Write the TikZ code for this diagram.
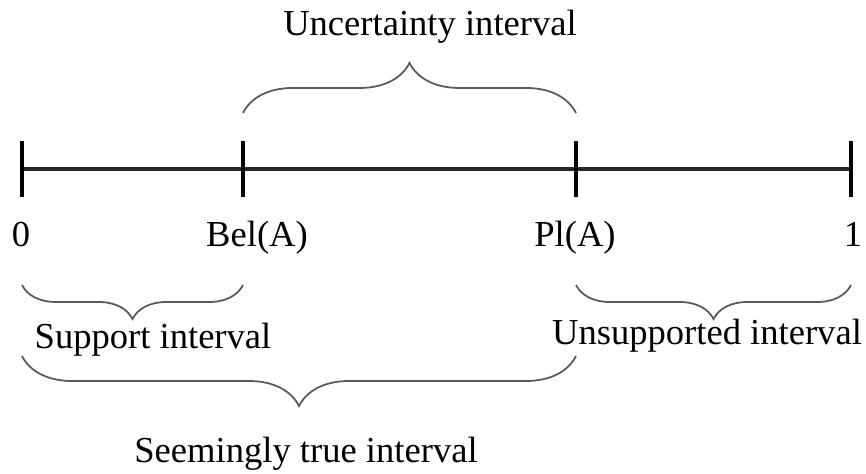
\documentclass[tikz,border=0pt]{standalone}
\usepackage{fontspec}
\setmainfont{Liberation Serif}
\usetikzlibrary{decorations.pathreplacing}

\tikzset{
  axisline/.style={line width=1.1pt,black!85},
  tickmark/.style={line width=0.9pt,black},
  brc/.style={decorate,decoration={brace,amplitude=#1},gray!70!black,line width=0.5pt},
  lbl/.style={inner sep=0pt,anchor=base},
}

\begin{document}
\begin{tikzpicture}[x=0.01cm,y=-0.01cm,font=\fontsize{10.4}{12}\selectfont]
\useasboundingbox (0,0) rectangle (866,474);

% Points on the line
\coordinate (p0) at (22,169);
\coordinate (pb) at (243,169);
\coordinate (pp) at (576,169);
\coordinate (p1) at (851,169);

% The line and its ticks
\draw[axisline] (p0) -- (p1);
\foreach \pt in {p0,pb,pp,p1} {
    \draw[tickmark] ([yshift=0.28cm]\pt) -- ([yshift=-0.28cm]\pt);
}

% Labels under the line
\node[lbl] (zero) at (21,247) {0};
\node[lbl] (bel) at (257,247) {Bel(A)};
\node[lbl] (pl) at (575,247) {Pl(A)};
\node[lbl] (one) at (853,247) {1};

% Brace ends
\coordinate (ub) at (243,113);
\coordinate (up) at (576,113);
\coordinate (s0) at (22,285);
\coordinate (sb) at (243,285);
\coordinate (n0) at (576,285);
\coordinate (n1) at (851,285);
\coordinate (t0) at (22,356);
\coordinate (tp) at (576,356);

% Braces
\draw[brc=0.5cm] (ub) -- (up);
\draw[brc=0.34cm] (sb) -- (s0);
\draw[brc=0.34cm] (n1) -- (n0);
\draw[brc=0.5cm] (tp) -- (t0);

% Interval names
\node[lbl] (unc) at (430,36) {Uncertainty interval};
\node[lbl] (sup) at (153,349) {Support interval};
\node[lbl] (uns) at (707,345) {Unsupported interval};
\node[lbl] (see) at (306,463) {Seemingly true interval};

\end{tikzpicture}
\end{document}
